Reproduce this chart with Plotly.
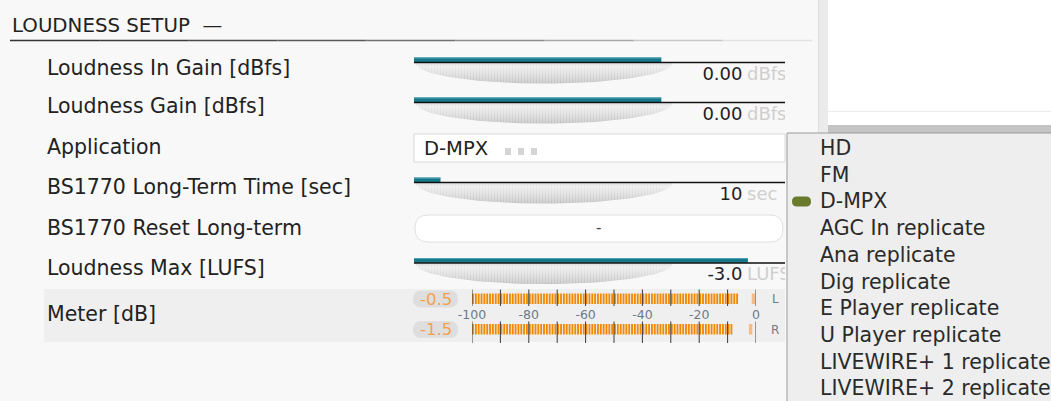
import numpy as np
import plotly.graph_objects as go

W, H = 1051, 401

# ---- data ----
header = "LOUDNESS SETUP  \u2014"
row_labels = ["Loudness In Gain [dBfs]", "Loudness Gain [dBfs]", "Application",
              "BS1770 Long-Term Time [sec]", "BS1770 Reset Long-term",
              "Loudness Max [LUFS]", "Meter [dB]"]

slider_values = [0.00, 0.00, 10, -3.0]
slider_min = [-24, -24, 0, -30]
slider_max = [12, 12, 140, 0]
slider_text = ["0.00", "0.00", "10", "-3.0"]
slider_units = ["dBfs", "dBfs", "sec", "LUFS"]

application = "D-MPX"
app_options = ["HD", "FM", "D-MPX", "AGC In replicate", "Ana replicate", "Dig replicate",
               "E Player replicate", "U Player replicate", "LIVEWIRE+ 1 replicate",
               "LIVEWIRE+ 2 replicate"]
reset_text = "-"

meter_channels = ["L", "R"]
meter_level = [-6.2, -8.7]
meter_peak = [-0.5, -1.5]
meter_peak_text = ["-0.5", "-1.5"]
meter_ticks = [-100, -80, -60, -40, -20, 0]
meter_tick_labels = ["-100", "-80", "-60", "-40", "-20", "0"]
meter_minor = [-100, -90, -80, -70, -60, -50, -40, -30, -20, -10, 0]

# ---- layout constants ----
FONT = "DejaVu Sans"
TEAL = "#17788a"
ORANGE = "#f08a06"
TX0, TX1 = 414, 785
label_y = [68, 106, 147, 187, 228, 268, 314]
track_y = [62.5, 102.5, 182.5, 263]
meter_bar_y = [293.5, 324]
meter_pill_y = [299, 329.5]

shapes, annotations = [], []


def rect(x0, y0, x1, y1, fill, line=None, layer="below"):
    shapes.append(dict(type="rect", xref="x", yref="y", x0=x0, y0=y0, x1=x1, y1=y1,
                       fillcolor=fill, layer=layer,
                       line=dict(color=line or fill, width=1 if line else 0)))


def hline(x0, x1, y, color, width=1, layer="below"):
    shapes.append(dict(type="line", xref="x", yref="y", x0=x0, x1=x1, y0=y, y1=y,
                       layer=layer, line=dict(color=color, width=width)))


def rounded(x0, y0, x1, y1, r, fill, line=None):
    p = (f"M{x0+r},{y0} L{x1-r},{y0} Q{x1},{y0} {x1},{y0+r} L{x1},{y1-r} Q{x1},{y1} {x1-r},{y1} "
         f"L{x0+r},{y1} Q{x0},{y1} {x0},{y1-r} L{x0},{y0+r} Q{x0},{y0} {x0+r},{y0} Z")
    shapes.append(dict(type="path", xref="x", yref="y", path=p, fillcolor=fill, layer="below",
                       line=dict(color=line or fill, width=1 if line else 0)))


def text(x, y, s, size=20.5, color="#222222", anchor="left"):
    annotations.append(dict(x=x, y=y, xref="x", yref="y", text=s, showarrow=False,
                            xanchor=anchor, yanchor="middle",
                            font=dict(family=FONT, size=size, color=color)))


fig = go.Figure()

# backgrounds
rect(818, 0, 828, 133, "#ebebeb")
shapes.append(dict(type="line", xref="x", yref="y", x0=818.5, x1=818.5, y0=0, y1=133,
                   line=dict(color="#dedede", width=1), layer="below"))
rect(828, 0, W, 125, "#ffffff")
hline(828, W, 111.5, "#ececec")
rect(828, 125, W, 133, "#c4c4c4")

# header + fading underline
text(10, 25, header, size=19.8)
greys = ["#333333", "#3d3d3d", "#4a4a4a", "#5a5a5a", "#707070", "#8a8a8a", "#a8a8a8", "#c8c8c8", "#e2e2e2"]
edges = np.linspace(10, 812, len(greys) + 1)
for g, a, b in zip(greys, edges[:-1], edges[1:]):
    hline(a, b, 40.5, g, 1.5)

# row labels
rect(44, 289, 785, 342, "#efefef")
for lab, y in zip(row_labels, label_y):
    text(45, y, lab)

# sliders: domes, tracks, bars, values
for i, ty in enumerate(track_y):
    cx, a, d = 544, 128, 20
    t = np.linspace(0, np.pi, 60)
    fig.add_trace(go.Scatter(x=cx + a * np.cos(t), y=ty + 1 + d * np.sin(t), mode="lines",
                             fill="toself", line=dict(width=0),
                             fillgradient=dict(type="vertical",
                                               colorscale=[[0, "#c0c0c0"], [0.45, "#d9d9d9"],
                                                           [0.85, "#ebebeb"], [1, "#dcdcdc"]]),
                             hoverinfo="skip", showlegend=False))
    sx, sy = [], []
    for x in np.arange(cx - a + 2, cx + a - 1, 3.0):
        sx += [x, x, None]
        sy += [ty + 1.5, ty + 1 + d * np.sqrt(max(0, 1 - ((x - cx) / a) ** 2)) - 0.5, None]
    fig.add_trace(go.Scatter(x=sx, y=sy, mode="lines", line=dict(color="rgba(255,255,255,0.45)", width=1.2),
                             hoverinfo="skip", showlegend=False))
    hline(TX0, TX1, ty, "#111111", 1.5, layer="above")

    ax = f"x{i + 2}"
    fig.add_trace(go.Bar(x=[slider_values[i] - slider_min[i]], base=[slider_min[i]], y=[ty - 2.6],
                         width=4.6, orientation="h", marker=dict(color=TEAL, line=dict(width=0)),
                         xaxis=ax, yaxis="y", hoverinfo="skip", showlegend=False))
    fig.add_trace(go.Bar(x=[slider_values[i] - slider_min[i]], base=[slider_min[i]], y=[ty - 4.4],
                         width=1.0, orientation="h", marker=dict(color="#4aa3b3", line=dict(width=0)),
                         xaxis=ax, yaxis="y", hoverinfo="skip", showlegend=False))
    fig.add_trace(go.Scatter(x=[742.5], y=[ty + 12.5], mode="text", text=[slider_text[i]],
                             textposition="middle left",
                             textfont=dict(family=FONT, size=18, color="#1e1e2a"),
                             xaxis="x6", yaxis="y", hoverinfo="skip", showlegend=False))
    fig.add_trace(go.Scatter(x=[747], y=[ty + 12.5], mode="text", text=[slider_units[i]],
                             textposition="middle right",
                             textfont=dict(family=FONT, size=18, color="#cfcfcf"),
                             xaxis="x6", yaxis="y", hoverinfo="skip", showlegend=False))

# application combo
rect(414, 134, 785, 162, "#ffffff", line="#d9d9d9")
text(422, 148, application, size=19.5)
for sx0 in [505, 518, 531]:
    rect(sx0, 148, sx0 + 6, 155, "#d4d4d4")

# reset button
rounded(415, 215, 783, 242, 13, "#ffffff", line="#e0e0e0")
text(598, 228, reset_text, size=15, color="#444444", anchor="center")

# meter
for ch, by, py, ptxt in zip(meter_channels, meter_bar_y, meter_pill_y, meter_peak_text):
    rounded(413, py - 8.5, 458, py + 8.5, 8.5, "#dedede")
    text(435.5, py, ptxt, size=16.5, color="#f4a050", anchor="center")
    text(775, py, ch, size=12, color="#7a7a7a", anchor="center")

tx, ty_ = [], []
for t_ in meter_minor:
    tx += [t_, t_, None, t_, t_, None]
    ty_ += [289.5, 306, None, 321.5, 343, None]

for lvl, pk, by in zip(meter_level, meter_peak, meter_bar_y):
    segs = np.arange(-100, lvl + 0.01, 1.0) + 0.35
    fig.add_trace(go.Bar(x=segs, y=[10.5] * len(segs), base=[by] * len(segs), width=0.66,
                         marker=dict(color=ORANGE, line=dict(width=0)),
                         xaxis="x7", yaxis="y", hoverinfo="skip", showlegend=False))
    fig.add_trace(go.Bar(x=[pk - 0.4], y=[10.5], base=[by], width=1.2,
                         marker=dict(color="#f7bc85", line=dict(width=0)),
                         xaxis="x7", yaxis="y", hoverinfo="skip", showlegend=False))

fig.add_trace(go.Scatter(x=tx, y=ty_, mode="lines", line=dict(color="#3a3a3a", width=1),
                         xaxis="x7", yaxis="y", hoverinfo="skip", showlegend=False))
fig.add_trace(go.Scatter(x=meter_ticks, y=[316] * len(meter_ticks), mode="text",
                         text=meter_tick_labels, textposition="middle center", cliponaxis=False,
                         textfont=dict(family=FONT, size=12.5, color="#6f7886"),
                         xaxis="x7", yaxis="y", hoverinfo="skip", showlegend=False))

# dropdown list
rect(787, 133, W + 2, H + 2, "#eeeeee", line="#9a9a9a")
opt_y = [148 + 26.7 * k for k in range(len(app_options))]
for opt, y in zip(app_options, opt_y):
    text(818, y, opt, size=20.5, color="#2a2a2a")
sel = opt_y[app_options.index(application)]
rounded(792, sel - 5, 811, sel + 5, 5, "#6a7a2c")

hidden = dict(visible=False, showgrid=False, zeroline=False, fixedrange=True)
layout_axes = dict(
    xaxis=dict(range=[0, W], domain=[0, 1], **hidden),
    yaxis=dict(range=[H, 0], domain=[0, 1], **hidden),
    xaxis6=dict(range=[0, TX1], domain=[0, TX1 / W], anchor="y", **hidden),
    xaxis7=dict(range=[-100, 0], domain=[472 / W, 756 / W], anchor="y", **hidden),
)
for i in range(4):
    layout_axes[f"xaxis{i + 2}"] = dict(range=[slider_min[i], slider_max[i]],
                                        domain=[TX0 / W, TX1 / W], anchor="y", **hidden)

fig.update_layout(
    width=W, height=H, autosize=False,
    margin=dict(l=0, r=0, t=0, b=0),
    paper_bgcolor="#f8f8f8", plot_bgcolor="rgba(0,0,0,0)",
    barmode="overlay", showlegend=False,
    shapes=shapes, annotations=annotations,
    font=dict(family=FONT),
    **layout_axes,
)

fig.write_html("out.html", config=dict(displayModeBar=False, staticPlot=True),
               post_script="document.body.style.margin='0px';")
